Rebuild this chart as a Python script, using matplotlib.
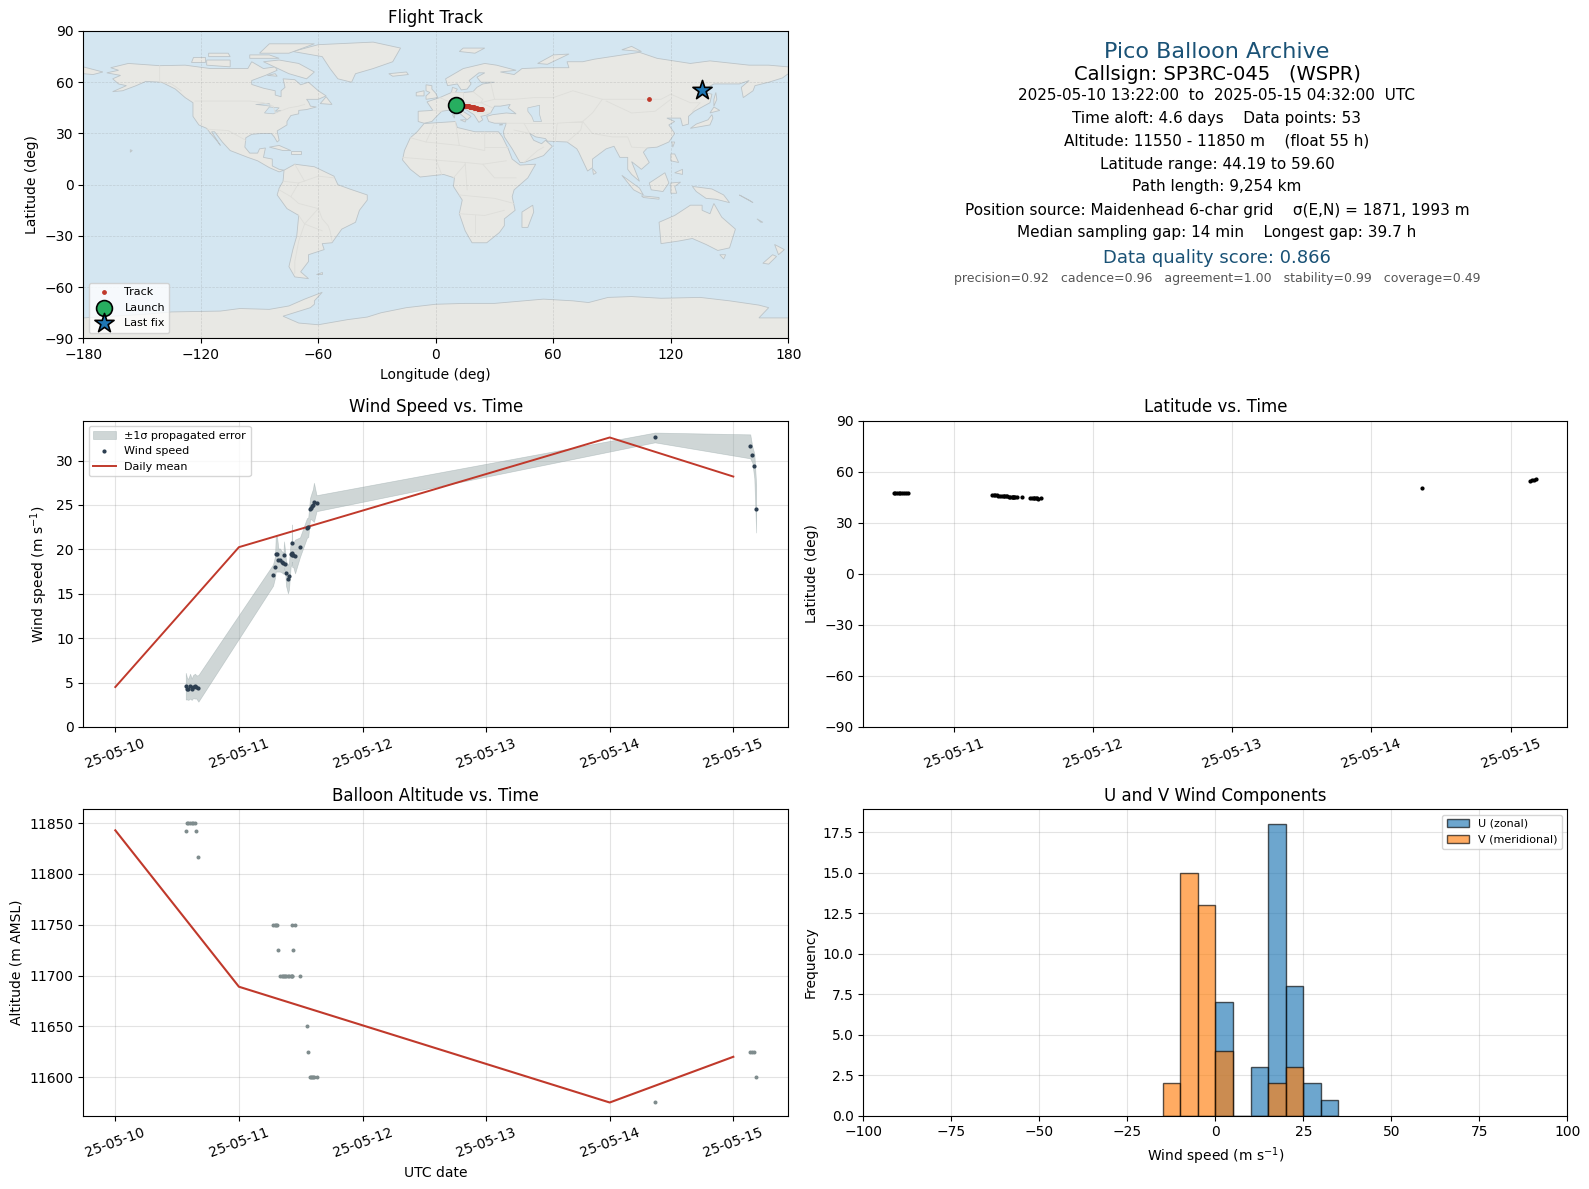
from datetime import datetime, timedelta
import matplotlib
matplotlib.use("Agg")
import matplotlib.pyplot as plt
import matplotlib.dates as mdates
from matplotlib.patches import Polygon
import numpy as np

# days of May 2025 (UTC)
days = [10.570, 10.581, 10.591, 10.605, 10.618, 10.629, 10.645, 10.656, 10.672,
        11.276, 11.292, 11.298, 11.308, 11.319, 11.332, 11.346, 11.360, 11.365, 11.376,
        11.381, 11.397, 11.405, 11.419, 11.427, 11.429, 11.432, 11.440, 11.454, 11.494,
        11.550, 11.561, 11.575, 11.580, 11.588, 11.599, 11.607, 11.628,
        14.365, 15.137, 15.154, 15.170, 15.185]
wind = [4.6, 4.3, 4.25, 4.6, 4.25, 4.55, 4.6, 4.5, 4.35,
        17.1, 18.0, 19.5, 19.5, 18.8, 18.8, 18.6, 18.45, 19.4, 18.35,
        17.3, 16.65, 17.0, 19.5, 19.6, 20.7, 19.4, 19.4, 19.2, 20.25,
        22.4, 22.5, 24.55, 24.7, 24.85, 25.0, 25.3, 25.2,
        32.6, 31.6, 30.67, 29.4, 24.6]
wind_err = [1.5, 1.2, 1.2, 1.4, 1.2, 1.3, 1.4, 1.3, 1.5,
            1.2, 1.2, 2.0, 2.0, 1.3, 1.3, 1.2, 1.2, 1.5, 1.2,
            1.4, 1.6, 1.5, 1.4, 1.4, 2.1, 1.4, 1.4, 1.9, 1.1,
            1.1, 1.1, 1.2, 1.3, 1.5, 1.8, 2.2, 0.9,
            0.55, 1.35, 0.9, 1.4, 2.7]
altitude = [11842, 11850, 11850, 11850, 11850, 11850, 11850, 11842, 11817,
            11750, 11750, 11750, 11750, 11725, 11700, 11700, 11700, 11700, 11700,
            11700, 11700, 11700, 11700, 11750, 11700, 11700, 11725, 11750, 11700,
            11650, 11625, 11600, 11600, 11600, 11600, 11600, 11600,
            11575, 11625, 11625, 11625, 11600]
lat = [47.2, 47.2, 47.2, 47.2, 47.2, 47.2, 47.2, 47.2, 47.2,
       46.3, 46.2, 46.1, 46.0, 45.9, 45.8, 45.8, 45.7, 45.7, 45.6,
       45.5, 45.4, 45.4, 45.3, 45.3, 45.2, 45.2, 45.2, 45.2, 45.1,
       44.6, 44.5, 44.4, 44.4, 44.3, 44.3, 44.2, 44.3,
       50.2, 54.7, 55.0, 55.2, 55.4]
lon = [9.8, 10.1, 10.4, 10.7, 11.0, 11.3, 11.6, 12.0, 12.4,
       14.5, 15.0, 15.4, 15.8, 16.2, 16.6, 17.0, 17.4, 17.7, 18.0,
       18.3, 18.6, 18.9, 19.2, 19.5, 19.7, 19.9, 20.1, 20.3, 20.8,
       21.4, 21.7, 22.0, 22.3, 22.6, 22.9, 23.2, 23.6,
       108.9, 135.4, 135.7, 135.9, 136.0]
launch_lon, launch_lat = 10.5, 46.8
last_lon, last_lat = 136.0, 55.2

mean_days = [10, 11, 14, 15]
mean_wind = [4.5, 20.25, 32.6, 28.2]
mean_alt = [11843, 11689, 11575, 11620]

bin_left = [-15, -10, -5, 0, 5, 10, 15, 20, 25, 30]
u_counts = [0, 0, 0, 7, 0, 3, 18, 8, 2, 1]
v_counts = [2, 15, 13, 4, 0, 0, 2, 3, 0, 0]

# rough world outline, lon/lat
land = [
    [(-168,65.5),(-162,67),(-166,68.5),(-157,71),(-141,69.7),(-128,70),(-115,68),(-108,68),(-96,68),(-94,72),(-88,68),(-82,69),(-81,67),(-87,64),(-94,61),(-94,58.7),(-88,56.5),(-82,55),(-82,52.5),(-79,51.5),(-79,55),(-77,57),(-78,62),(-72,61.5),(-69,58.5),(-65,60),(-60,55),(-56,52),(-60,50),(-66,50),(-65,48.5),(-64,46),(-61,45.5),(-66,44),(-70,43.5),(-70,41.5),(-74,40.5),(-76,37),(-76,35),(-81,31.5),(-80,26),(-81,25),(-82.5,28),(-84,30),(-89,30),(-94,29.5),(-97,27.5),(-97.5,22),(-95,18.5),(-91,18.5),(-90,21),(-87,21.5),(-88,16),(-83.5,15),(-83.5,11),(-80,9),(-77.5,8.5),(-80,7.5),(-85,10),(-91,14),(-96,16),(-105,20),(-109,25),(-113,31),(-114.5,31),(-110,23),(-112,26),(-115,30),(-117,33),(-121,35),(-124,40),(-124,48),(-128,51),(-133,56),(-140,60),(-148,60.5),(-153,58),(-160,55),(-165,54.5),(-158,58),(-162,59),(-165,62),(-161,64)],
    [(-77.5,8.5),(-72,12),(-62,10.5),(-52,5),(-50,0),(-44,-2.5),(-35,-6),(-35,-9),(-39,-15),(-41,-22),(-48,-26),(-53,-34),(-58,-34.5),(-57,-38),(-65,-41),(-65,-45),(-69,-51),(-65,-55),(-72,-54),(-75,-48),(-73,-38),(-71,-30),(-70,-18),(-76,-14),(-81,-6),(-80,-2),(-78,2)],
    [(-6,35.8),(10,37),(11,33.5),(20,31),(32,31),(34,28),(37,21),(39,15),(43,11.5),(51,12),(47,4),(40,-3),(39,-7),(40.5,-15),(35,-20),(35,-24),(32.5,-28),(26,-34),(18.5,-34),(15,-27),(12,-17),(13.5,-9),(9,-1),(9.5,4),(4,6),(-4,5),(-8,4.5),(-13,9),(-17,14.5),(-16,20),(-13,27.5),(-9.5,31)],
    [(-9,37),(-9,43),(-1.5,43.5),(-4.5,48.5),(2,51),(8,54),(8.5,57),(11,56),(10,54),(14,54),(19,54.5),(21,57),(24,59),(30,60),(23,60),(21,63),(25,65.5),(22,65.5),(17,61),(18,59),(16,56),(13,55.5),(11,59),(6,58),(5,62),(14,68),(25,71),(31,70),(41,67),(33,66),(40,64.5),(44,68),(54,68.5),(68,68.5),(67,72),(75,72),(81,73.5),(104,77.5),(113,74),(130,71),(140,72.5),(160,70),(170,70),(180,69),(180,65),(177,62.5),(170,60),(163,58),(162,55),(157,51),(156,57),(160,61),(155,59),(142,59),(135,54.5),(141,53),(140,48),(132,43),(129,40),(129,35.5),(126,34.5),(125,39),(121,39),(118,39),(122,37),(119,35),(122,30),(119,25),(113,22),(108,21.5),(106,19),(109,13),(105,9),(100,13.5),(104,2),(100,6),(98,9),(98,16),(94,16),(91,22.5),(87,21),(80,15),(80,10),(77.5,8),(73,19),(72,21),(67,25),(57,25.5),(56,27),(51,28),(48,30),(50,26),(54,24),(56,26),(59.5,22.5),(55,17),(45,13),(43,13),(39,21),(35,28),(34.5,31),(36,36),(30,36),(27,37),(26,40),(29,41),(36,42),(41,41.5),(37,45),(38,47),(33,46),(30,46),(28,42),(26,40.8),(23,40),(24,38),(22,36.5),(19.5,41),(14,45),(12.5,44),(18,40),(16,38),(12,42),(9,44),(3,43),(0,39.5),(-2,37),(-6,36)],
    [(-73,78),(-60,82),(-32,83.5),(-18,80),(-22,72),(-32,68),(-41,65),(-43,60),(-50,62),(-54,68),(-58,75)],
    [(-180,-90),(-180,-78),(-150,-76),(-135,-74.5),(-110,-74),(-100,-72.5),(-85,-73),(-75,-71),(-67,-67),(-58,-63),(-62,-68),(-62,-70),(-64,-72),(-78,-77),(-70,-81),(-60,-82),(-45,-79),(-35,-77.5),(-28,-75),(-15,-72),(0,-70),(15,-69.5),(30,-69.5),(40,-68.5),(55,-67),(70,-68),(78,-69),(88,-66),(100,-65.5),(115,-66.5),(135,-66),(150,-68),(165,-70.5),(170,-72),(165,-78),(180,-78),(180,-90)],
    [(114,-22),(122,-18),(130,-12),(136,-12),(136,-15),(140,-17),(142,-11),(146,-19),(153,-26),(150,-37),(144,-38.5),(138,-35),(131,-31.5),(124,-33),(115,-34.5)],
    [(44,-16),(49.5,-12),(50,-16),(47,-25),(44,-25)],
    [(-5,50),(1,51),(0,53.5),(-2,56),(-2,58),(-5,58.5),(-5,55),(-3,54),(-5,52)],
    [(-10,52),(-6,52),(-6,55),(-10,54)],
    [(-24,65),(-15,66),(-14,64.5),(-22,63.5)],
    [(130,33),(135,34),(140,35),(141.5,39),(141,41),(139,38),(133,35.5)],
    [(140,42),(145,43.5),(142,45.5)],
    [(142,46),(143.5,50),(143,54),(142,50)],
    [(109,1),(117,7),(119,1),(116,-4),(110,-3)],
    [(95,5.5),(104,-2),(106,-6),(101,-3)],
    [(105,-6.5),(114,-7.5),(114,-8.5),(106,-7.5)],
    [(120,1),(125,1.5),(122,-1),(123,-5),(120,-5)],
    [(131,-1),(141,-2.5),(147,-6),(150,-10.5),(143,-8.5),(138,-8),(133,-4)],
    [(173,-35),(178,-38),(175,-41),(174,-38)],
    [(172,-41),(174,-42),(170,-46.5),(167,-46)],
    [(120,18),(122,18),(124,13),(120,14)],
    [(122,7),(126,9),(126,6)],
    [(80,9.5),(82,7),(80.5,6)],
    [(-85,22),(-80,23),(-74,20),(-78,20)],
    [(-74,19.5),(-69,19.5),(-69,18),(-74,18)],
    [(-59,47.5),(-56,51.5),(-53,47)],
    [(-80,73),(-70,71),(-62,66),(-66,62),(-75,65),(-88,72)],
    [(-117,70),(-105,69),(-105,73),(-117,73)],
    [(-90,77),(-75,77),(-62,82.5),(-85,82.5)],
    [(-125,72),(-118,72),(-118,75),(-124,75)],
    [(-95,74),(-80,74),(-85,76),(-95,76)],
    [(-116,75),(-105,75),(-106,77),(-116,77)],
    [(-86,64),(-81,63.5),(-82,65)],
    [(12,78),(20,77),(25,80),(14,80)],
    [(52,71),(57,70.5),(68,76.5),(60,76)],
    [(95,79),(105,78),(100,81)],
    [(-156,19),(-155,20),(-156,20.5)],
    [(-61,-52),(-58,-52),(-58,-51)],
    [(145,-41),(148,-41),(147,-43.5)],
    [(12.5,38),(15.5,38),(15,36.7)],
    [(8.5,41),(9.7,41),(9.5,39)],
    [(-180,69),(-175,67.5),(-170,66),(-175,64.5),(-180,65)],
    [(155,-6),(160,-9),(162,-10.5),(158,-8)],
    [(164,-20),(167,-22),(166,-22)],
    [(34,35),(34,35.5),(32.5,35)],
    [(120.5,25),(122,25),(121,22)],
]
water = [
    [(47,45),(53,46.5),(53,41),(54,37),(50,37),(49,40),(47,43)],
    [(-92,47),(-85,47.5),(-84.5,46),(-88,46.5)],
    [(-87.5,42),(-85,45.5),(-80,45),(-82,43),(-79,43.5),(-83,41.5)],
]
borders = [
    [(-141,69.7),(-141,60),(-135,59),(-130,55)],
    [(-123,49),(-95,49),(-88,48),(-83,46),(-82,42),(-75,45),(-70,46),(-67,47)],
    [(-117,32.5),(-106,31.7),(-97,26)],
    [(-52,4),(-60,5),(-70,1),(-74,-7),(-70,-11),(-60,-14),(-58,-20),(-55,-24),(-54,-27),(-53,-33)],
    [(-70,-18),(-67,-23),(-70,-33),(-72,-45),(-72,-52)],
    [(-78,2),(-70,1)],[(-80,-3),(-74,-7)],[(-72,12),(-67,2)],[(-60,-14),(-67,-23),(-58,-27)],
    [(-13,27.5),(-5,25),(12,23),(25,20),(25,31)],
    [(25,22),(37,22)],
    [(-17,16),(15,13),(24,12),(36,14)],
    [(9,4),(15,12)],
    [(24,12),(30,4),(41,4)],
    [(12,-6),(30,-8),(40,-11)],
    [(12,-17),(25,-18),(35,-15)],
    [(20,-18),(20,-28)],
    [(-1,35),(-5,25)],[(10,37),(12,23)],[(0,15),(3,6)],[(15,13),(16,-3)],
    [(28,60),(30,50),(40,50),(50,51),(60,51),(70,55),(85,50),(98,50),(115,50),(120,53),(130,48),(135,48),(131,43)],
    [(75,37),(80,30),(90,28),(98,28),(100,22),(108,21.5)],
    [(85,50),(80,42),(75,37),(62,36),(61,25)],
    [(87,49),(100,42),(112,43),(120,50)],
    [(36,36),(45,36),(48,30)],
    [(45,36),(61,36)],
    [(40,32),(48,30)],[(45,13),(52,20),(55,22)],
    [(-1.5,43.5),(3,43)],[(2,51),(8,48),(7,44)],[(8,54),(14,54),(14,48),(8,48)],
    [(14,48),(23,48),(30,50)],[(19,54.5),(24,50),(23,48)],[(23,48),(29,45)],[(14,45),(22,42),(28,42)],
    [(68,37),(75,37)],[(67,25),(74,32),(75,37)],
]

c_red = "#c0392b"
c_dark = "#2c3e50"
c_grey = "#7f8c8d"
c_band = "#95a5a6"
c_title = "#1a5276"
W, H = 1589, 1189

left_x = (83.3, 788.3)
right_x = (863.3, 1567.3)
row1 = (31, 338.4)
row2 = (420.6, 727)
row3 = (809, 1115.7)


def place(fig, xs, ys):
    # pixel box, y from the top
    return fig.add_axes([xs[0] / W, 1 - ys[1] / H, (xs[1] - xs[0]) / W, (ys[1] - ys[0]) / H])


def to_dates(values):
    return [datetime(2025, 5, 1) + timedelta(days=d - 1) for d in values]


def date_axis(ax, start, end):
    ax.set_xlim(to_dates([start])[0], to_dates([end])[0])
    ax.xaxis.set_major_locator(mdates.DayLocator())
    ax.xaxis.set_major_formatter(mdates.DateFormatter("%y-%m-%d"))
    ax.tick_params(axis="x", labelrotation=20)
    ax.grid(True, color="grey", alpha=0.22)
    ax.set_axisbelow(True)


fig = plt.figure(figsize=(W / 100, H / 100), dpi=100)

# map
ax = place(fig, left_x, row1)
ax.set_facecolor("#d4e6f1")
for poly in land:
    ax.add_patch(Polygon(poly, closed=True, facecolor="#e8e8e4", edgecolor="#bcc4c8", lw=0.6, zorder=1))
for poly in water:
    ax.add_patch(Polygon(poly, closed=True, facecolor="#d4e6f1", edgecolor="#bcc4c8", lw=0.5, zorder=1.1))
for line in borders:
    xs, ys = zip(*line)
    ax.plot(xs, ys, color="#dededa", lw=0.6, zorder=1.2)
ax.grid(True, color="grey", alpha=0.25, ls="--", lw=0.5, zorder=1.5)
ax.scatter(lon, lat, s=6, color=c_red, label="Track", zorder=3)
ax.scatter([launch_lon], [launch_lat], s=130, color="#27ae60", edgecolor="black", lw=1.2, label="Launch", zorder=4)
ax.scatter([last_lon], [last_lat], s=210, marker="*", color="#1f77b4", edgecolor="black", lw=1.2, label="Last fix", zorder=4)
ax.set_xlim(-180, 180)
ax.set_ylim(-90, 90)
ax.set_xticks(range(-180, 181, 60))
ax.set_yticks(range(-90, 91, 30))
ax.set_xlabel("Longitude (deg)")
ax.set_ylabel("Latitude (deg)")
ax.set_title("Flight Track", fontsize=12)
ax.legend(loc="lower left", fontsize=8)

# info panel
info_lines = [
    (52, "Pico Balloon Archive", 16, c_title),
    (75, "Callsign: SP3RC-045   (WSPR)", 14, "black"),
    (95, "2025-05-10 13:22:00  to  2025-05-15 04:32:00  UTC", 11, "black"),
    (118, "Time aloft: 4.6 days    Data points: 53", 11, "black"),
    (141, "Altitude: 11550 - 11850 m    (float 55 h)", 11, "black"),
    (164, "Latitude range: 44.19 to 59.60", 11, "black"),
    (187, "Path length: 9,254 km", 11, "black"),
    (210, "Position source: Maidenhead 6-char grid    \u03c3(E,N) = 1871, 1993 m", 11, "black"),
    (233, "Median sampling gap: 14 min    Longest gap: 39.7 h", 11, "black"),
    (258, "Data quality score: 0.866", 13, c_title),
    (279, "precision=0.92   cadence=0.96   agreement=1.00   stability=0.99   coverage=0.49", 9, "#555555"),
]
for y, s, size, col in info_lines:
    fig.text(1217 / W, 1 - y / H, s, fontsize=size, color=col, ha="center", va="center")

t = to_dates(days)
t_mean = to_dates(mean_days)

# wind speed
ax = place(fig, left_x, row2)
low = np.array(wind) - np.array(wind_err)
high = np.array(wind) + np.array(wind_err)
ax.fill_between(t, low, high, color=c_band, alpha=0.45, lw=0.5, label="\u00b11\u03c3 propagated error")
ax.scatter(t, wind, s=4, color=c_dark, label="Wind speed", zorder=3)
ax.plot(t_mean, mean_wind, color=c_red, lw=1.4, label="Daily mean", zorder=2)
date_axis(ax, 9.741, 15.445)
ax.set_ylim(0, 34.5)
ax.set_ylabel("Wind speed (m s$^{-1}$)")
ax.set_title("Wind Speed vs. Time", fontsize=12)
ax.legend(loc="upper left", fontsize=8)

# latitude
ax = place(fig, right_x, row2)
ax.scatter(t, lat, s=4, color="black", zorder=3)
date_axis(ax, 10.351, 15.408)
ax.set_ylim(-90, 90)
ax.set_yticks(range(-90, 91, 30))
ax.set_ylabel("Latitude (deg)")
ax.set_title("Latitude vs. Time", fontsize=12)

# altitude
ax = place(fig, left_x, row3)
ax.scatter(t, altitude, s=3.5, color=c_grey, zorder=3)
ax.plot(t_mean, mean_alt, color=c_red, lw=1.5, zorder=2)
date_axis(ax, 9.741, 15.445)
ax.set_ylim(11562, 11864)
ax.set_yticks(range(11600, 11851, 50))
ax.set_xlabel("UTC date")
ax.set_ylabel("Altitude (m AMSL)")
ax.set_title("Balloon Altitude vs. Time", fontsize=12)

# wind components
ax = place(fig, right_x, row3)
ax.bar(bin_left, u_counts, width=5, align="edge", color="#1f77b4", alpha=0.65, edgecolor="black", label="U (zonal)", zorder=2)
ax.bar(bin_left, v_counts, width=5, align="edge", color="#ff7f0e", alpha=0.65, edgecolor="black", label="V (meridional)", zorder=2)
ax.set_xlim(-100, 100)
ax.set_ylim(0, 18.95)
ax.grid(True, color="grey", alpha=0.22)
ax.set_axisbelow(True)
ax.set_xlabel("Wind speed (m s$^{-1}$)")
ax.set_ylabel("Frequency")
ax.set_title("U and V Wind Components", fontsize=12)
ax.legend(loc="upper right", fontsize=8)

fig.savefig("out.png", dpi=100)
